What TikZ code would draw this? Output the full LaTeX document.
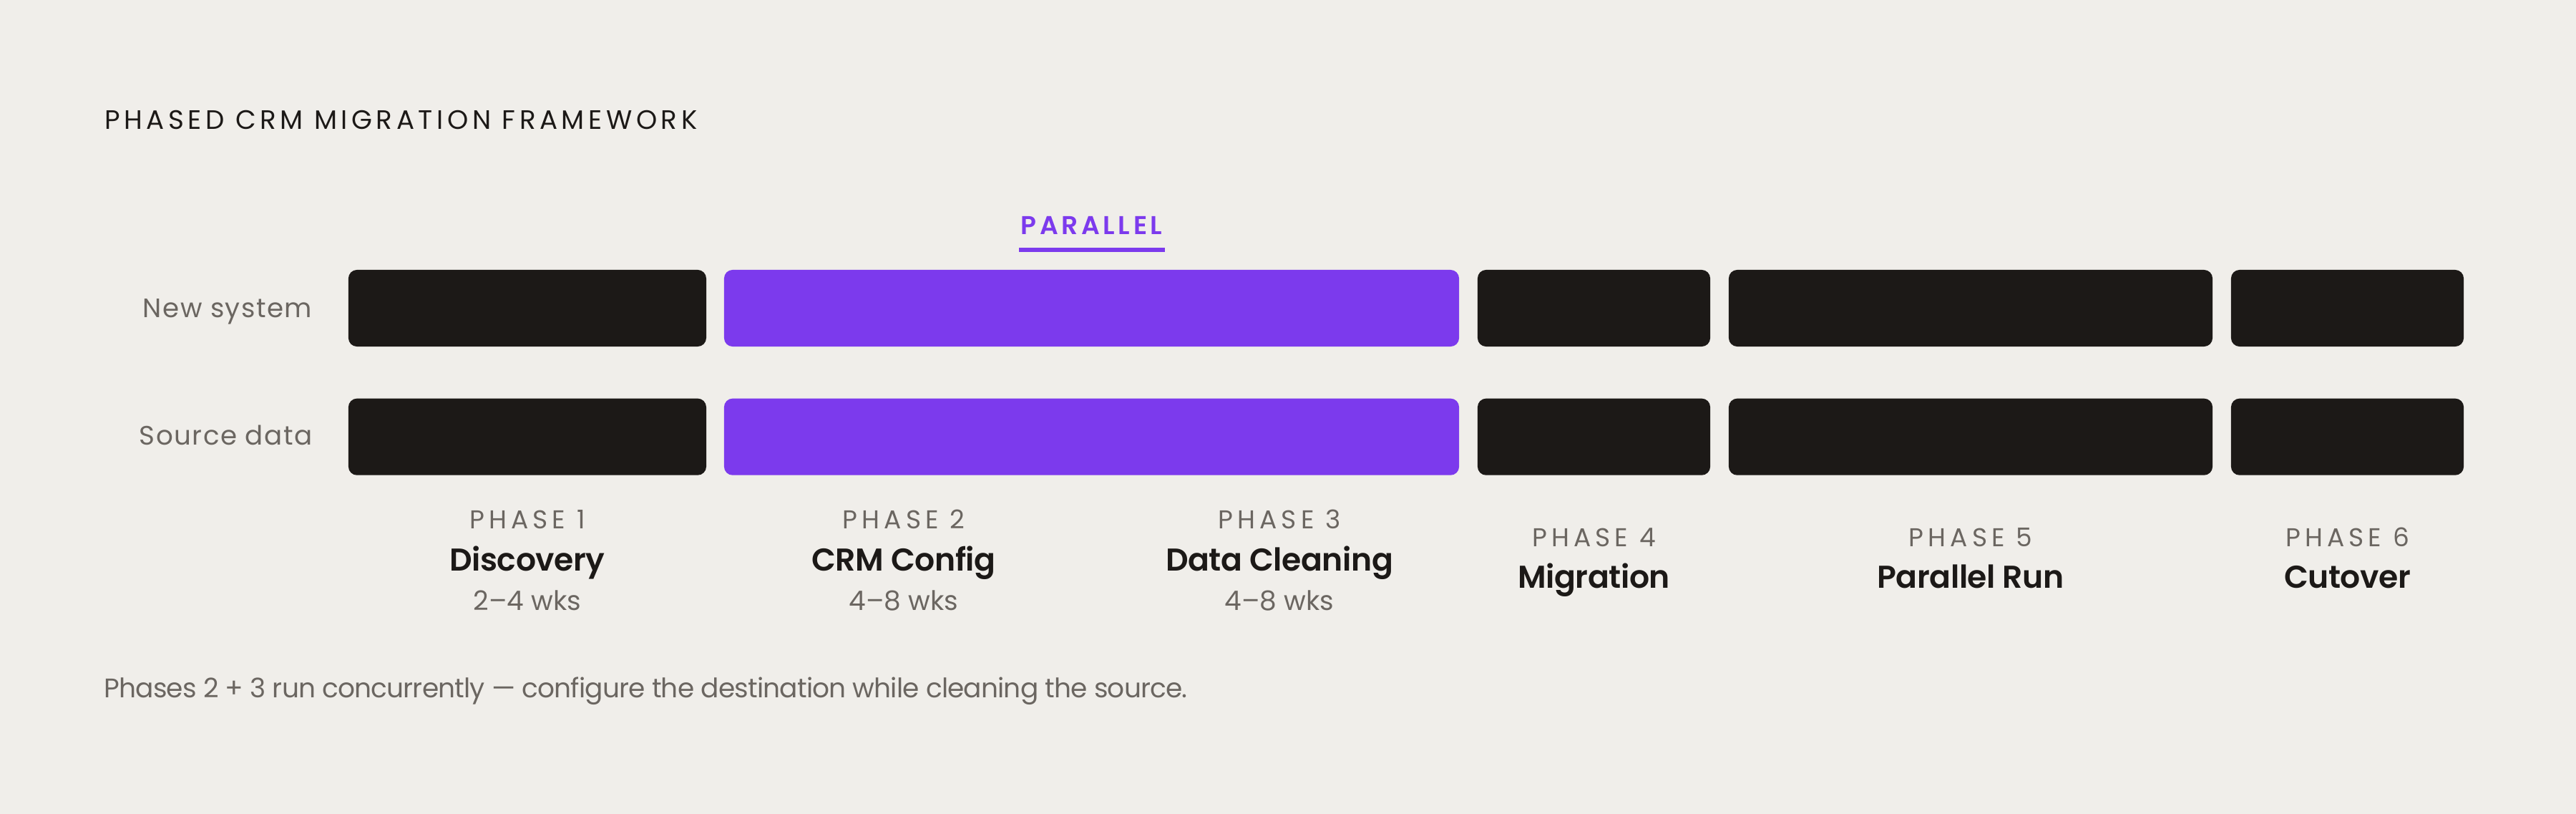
\documentclass[tikz,border=0pt]{standalone}
\usepackage{fontspec}
\setmainfont{Poppins}[BoldFont={Poppins SemiBold}]
\newfontfamily\titlefont{Poppins}[LetterSpace=15]
\newfontfamily\largefont{Poppins}[LetterSpace=17]
\newfontfamily\lightfont{Poppins}[LetterSpace=4]
\newfontfamily\tightfont{Poppins}[LetterSpace=-2.2]
\newfontfamily\boldnom{Poppins SemiBold}[LetterSpace=-1]
\newfontfamily\boldlarge{Poppins SemiBold}[LetterSpace=13]
\definecolor{fond}{HTML}{F0EEEA}
\definecolor{encre}{HTML}{1C1917}
\definecolor{violet}{HTML}{7C3AED}
\definecolor{gris}{HTML}{6B6661}

\begin{document}
\begin{tikzpicture}[x=1pt,y=-1pt]
\tikzset{bloc/.style={rectangle, rounded corners=4pt, fill=encre, minimum height=35.7pt, inner sep=0pt},
         par/.style={bloc, fill=violet},
         rang/.style={anchor=base east, inner sep=0pt, text=gris, font=\lightfont\fontsize{12.4}{15}\selectfont},
         tete/.style={anchor=base, inner sep=0pt, text=gris, font=\largefont\fontsize{12}{15}\selectfont},
         nom/.style={anchor=base, inner sep=0pt, text=encre, font=\boldnom\fontsize{14.7}{18}\selectfont},
         duree/.style={anchor=base, inner sep=0pt, text=gris, font=\fontsize{12.5}{15}\selectfont}}
\fill[fond] (0,0) rectangle (1200,379);
\node[anchor=base west, inner sep=0pt, text=encre, font=\titlefont\fontsize{12.4}{15}\selectfont] (T) at (48.5,60.3) {PHASED CRM MIGRATION FRAMEWORK};
\node[anchor=base, inner sep=0pt, text=violet, font=\boldlarge\fontsize{12}{15}\selectfont] (P) at (508.5,109.1) {PARALLEL};
\draw[violet, line width=2pt] (474.7,116.5) -- (542.7,116.5);
\node[rang] (LN) at (145.6,147.7) {New system};
\node[rang] (LS) at (145.6,207.3) {Source data};
\node[bloc, minimum width=166.7pt] (N1) at (245.65,143.5) {};
\node[par, minimum width=342.4pt] (N2) at (508.5,143.5) {};
\node[bloc, minimum width=108.4pt] (N4) at (742.5,143.5) {};
\node[bloc, minimum width=225.4pt] (N5) at (918,143.5) {};
\node[bloc, minimum width=108.4pt] (N6) at (1093.5,143.5) {};
\node[bloc, minimum width=166.7pt] (S1) at (245.65,203.4) {};
\node[par, minimum width=342.4pt] (S2) at (508.5,203.4) {};
\node[bloc, minimum width=108.4pt] (S4) at (742.5,203.4) {};
\node[bloc, minimum width=225.4pt] (S5) at (918,203.4) {};
\node[bloc, minimum width=108.4pt] (S6) at (1093.5,203.4) {};
\node[tete] (H1) at (245.65,246.3) {PHASE 1};
\node[nom] (D1) at (245.65,266) {Discovery};
\node[duree] (W1) at (245.65,284.3) {2–4 wks};
\node[tete] (H2) at (421,246.3) {PHASE 2};
\node[nom] (D2) at (421,266) {CRM Config};
\node[duree] (W2) at (421,284.3) {4–8 wks};
\node[tete] (H3) at (596,246.3) {PHASE 3};
\node[nom] (D3) at (596,266) {Data Cleaning};
\node[duree] (W3) at (596,284.3) {4–8 wks};
\node[tete] (H4) at (742.5,254.4) {PHASE 4};
\node[nom] (D4) at (742.5,273.7) {Migration};
\node[tete] (H5) at (918,254.4) {PHASE 5};
\node[nom] (D5) at (918,273.7) {Parallel Run};
\node[tete] (H6) at (1093.5,254.4) {PHASE 6};
\node[nom] (D6) at (1093.5,273.7) {Cutover};
\node[anchor=base west, inner sep=0pt, text=gris, font=\tightfont\fontsize{12.5}{15}\selectfont] (F) at (48.3,325) {Phases 2 + 3 run concurrently — configure the destination while cleaning the source.};
\end{tikzpicture}
\end{document}
